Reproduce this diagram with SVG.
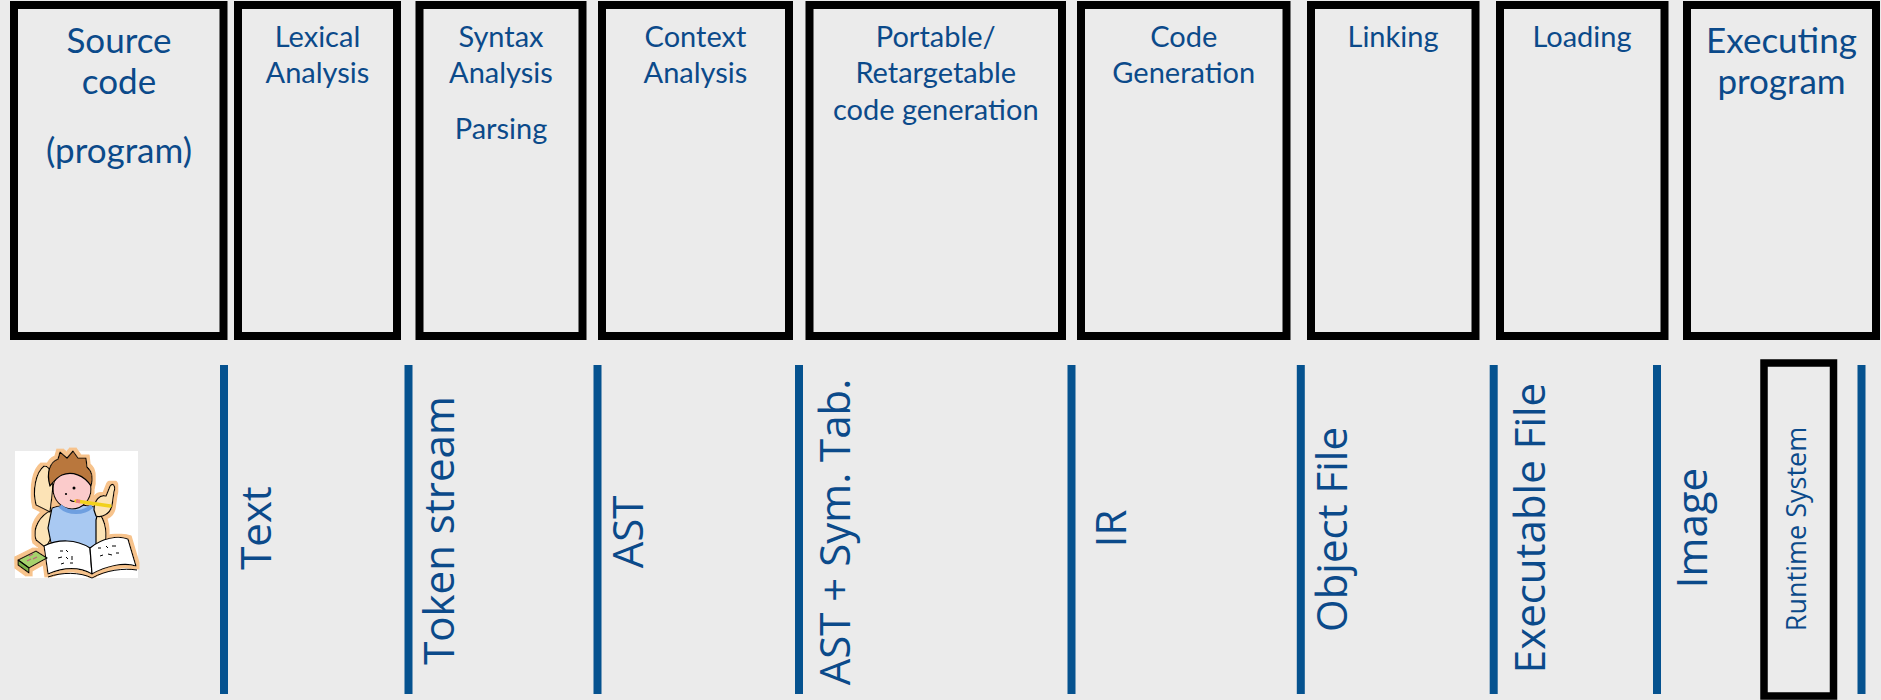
<svg xmlns="http://www.w3.org/2000/svg" width="1881" height="700" viewBox="0 0 1881 700">
  <style>
    .stage { fill: #EBEBEB; stroke: #000; stroke-width: 8; }
    .title { font-family: Lato, "Liberation Sans", sans-serif; fill: #0B4A8A; text-anchor: middle; }
    .t-sm { font-size: 29px; }
    .t-lg { font-size: 35px; }
    .divider { stroke: #05528F; stroke-width: 8; }
    .artifact { font-family: "Open Sans", "Noto Sans", sans-serif; font-size: 42px; fill: #0B4A8A; text-anchor: middle; }
    .ink { stroke: #000; stroke-width: 1.2; stroke-linejoin: round; stroke-linecap: round; }
  </style>
  <defs>
    <!-- peach halo around the clip-art outline -->
    <filter id="halo" x="-10%" y="-10%" width="120%" height="120%">
      <feMorphology in="SourceAlpha" operator="dilate" radius="2.5" result="grown"/>
      <feFlood flood-color="#F7C38C"/>
      <feComposite in2="grown" operator="in" result="ring"/>
      <feMerge>
        <feMergeNode in="ring"/>
        <feMergeNode in="SourceGraphic"/>
      </feMerge>
    </filter>
  </defs>

  <rect width="1881" height="700" fill="#EBEBEB"/>

  <!-- compiler stages -->
  <g id="source-code">
    <rect class="stage" x="14" y="5" width="209.5" height="331"/>
    <text class="title t-lg" x="119" y="53">Source</text>
    <text class="title t-lg" x="119" y="94">code</text>
    <text class="title t-lg" x="119" y="163">(program)</text>
  </g>
  <g id="lexical-analysis">
    <rect class="stage" x="238" y="5" width="159" height="331"/>
    <text class="title t-sm" x="317.5" y="47">Lexical</text>
    <text class="title t-sm" x="317.5" y="83">Analysis</text>
  </g>
  <g id="syntax-analysis">
    <rect class="stage" x="419.5" y="5" width="163" height="331"/>
    <text class="title t-sm" x="501" y="47">Syntax</text>
    <text class="title t-sm" x="501" y="83">Analysis</text>
    <text class="title t-sm" x="501" y="139">Parsing</text>
  </g>
  <g id="context-analysis">
    <rect class="stage" x="602" y="5" width="187" height="331"/>
    <text class="title t-sm" x="695.5" y="47">Context</text>
    <text class="title t-sm" x="695.5" y="83">Analysis</text>
  </g>
  <g id="retargetable-codegen">
    <rect class="stage" x="809.5" y="5" width="252.5" height="331"/>
    <text class="title t-sm" x="935.75" y="47">Portable/</text>
    <text class="title t-sm" x="935.75" y="83">Retargetable</text>
    <text class="title t-sm" x="935.75" y="120">code generation</text>
  </g>
  <g id="code-generation">
    <rect class="stage" x="1081" y="5" width="205.5" height="331"/>
    <text class="title t-sm" x="1183.75" y="47">Code</text>
    <text class="title t-sm" x="1183.75" y="83">Generation</text>
  </g>
  <g id="linking">
    <rect class="stage" x="1311" y="5" width="164.5" height="331"/>
    <text class="title t-sm" x="1393" y="47">Linking</text>
  </g>
  <g id="loading">
    <rect class="stage" x="1500" y="5" width="164.5" height="331"/>
    <text class="title t-sm" x="1582" y="47">Loading</text>
  </g>
  <g id="executing-program">
    <rect class="stage" x="1687" y="5" width="189" height="331"/>
    <text class="title t-lg" x="1781.5" y="53">Executing</text>
    <text class="title t-lg" x="1781.5" y="94">program</text>
  </g>

  <!-- programmer clip art -->
  <g id="programmer">
    <rect x="15" y="451" width="123" height="127" fill="#FFFFFF"/>
    <g filter="url(#halo)">
      <!-- left arm -->
      <path class="ink" d="M52 510 C40 515 32 528 36 540 L46 548 L56 528 Z" fill="#FCE3B6"/>
      <path class="ink" d="M36 505 C32 490 36 472 44 466 C52 466 54 480 52 496 L50 512 Z" fill="#FCE3B6"/>
      <!-- shirt -->
      <path class="ink" d="M52 508 C60 504 88 504 98 508 L104 530 L100 548 L52 548 L48 528 Z" fill="#A9C9F2"/>
      <!-- right arm and hand -->
      <path class="ink" d="M98 512 C106 520 108 536 104 546 L96 546 L96 520 Z" fill="#FCE3B6"/>
      <path class="ink" d="M94 510 C94 500 100 494 106 496 L110 486 C113 482 116 486 114 492 L112 506 C110 514 102 518 96 516 Z" fill="#FCE3B6"/>
      <!-- head -->
      <ellipse class="ink" cx="72" cy="489" rx="19" ry="20" fill="#FBCBCB"/>
      <!-- hair -->
      <path class="ink" d="M50 486 C46 472 50 462 58 459 L60 452 L67 458 L73 451 L78 458 L86 458 L87 467 C93 472 93 480 91 486 C84 475 72 471 62 475 C57 477 54 481 50 486 Z" fill="#B9773C"/>
      <!-- open book -->
      <path class="ink" d="M44 546 C58 539 76 539 90 548 L92 574 C78 566 62 568 48 574 Z" fill="#FFFFFF"/>
      <path class="ink" d="M90 548 C102 538 118 535 128 539 L136 566 C124 562 106 566 92 574 Z" fill="#FFFFFF"/>
      <!-- calculator -->
      <path class="ink" d="M18 560 L36 551 L47 558 L29 568 Z" fill="#A6D26C"/>
      <path class="ink" d="M18 560 L29 568 L29 573 L18 565 Z" fill="#7FB14A"/>
    </g>
    <path d="M60 506 C68 514 84 514 92 506" fill="none" stroke="#6E9FE0" stroke-width="4"/>
    <!-- face details -->
    <circle cx="74" cy="488" r="1.5" fill="#000"/>
    <circle cx="66" cy="494" r="1.1" fill="#000"/>
    <path d="M70 500 Q74 503 78 500" fill="none" stroke="#000" stroke-width="1.2"/>
    <!-- pencil -->
    <line x1="76" y1="501" x2="110" y2="506" stroke="#F1D11C" stroke-width="3.5" stroke-linecap="round"/>
    <line x1="76" y1="501" x2="80" y2="501.6" stroke="#F08080" stroke-width="3.5"/>
    <!-- page edges and scribbles -->
    <path d="M48 577 C62 572 80 572 92 578 C106 570 124 568 137 570" fill="none" stroke="#000" stroke-width="1"/>
    <g fill="none" stroke="#000" stroke-width="1">
      <path d="M60 551 l3 0 M66 550 l2 2 M58 558 l4 -1 M66 557 l2 2 M72 556 l0 4 M61 564 l3 -1 M70 563 l3 0"/>
      <path d="M98 548 l3 0 M106 546 l2 2 M112 546 l4 0 M100 556 l3 -1 M108 554 l4 1 M116 553 l3 0"/>
    </g>
    <path d="M29 556 l4 -2 M33 559 l4 -2 M27 561 l4 -2" stroke="#C06080" stroke-width="1.2"/>
  </g>

  <!-- boundaries between representations -->
  <g id="connectors">
    <line class="divider" x1="224" y1="365" x2="224" y2="694"/>
    <line class="divider" x1="408.5" y1="365" x2="408.5" y2="694"/>
    <line class="divider" x1="597.5" y1="365" x2="597.5" y2="694"/>
    <line class="divider" x1="799" y1="365" x2="799" y2="694"/>
    <line class="divider" x1="1071.5" y1="365" x2="1071.5" y2="694"/>
    <line class="divider" x1="1300.8" y1="365" x2="1300.8" y2="694"/>
    <line class="divider" x1="1493.7" y1="365" x2="1493.7" y2="694"/>
    <line class="divider" x1="1657" y1="365" x2="1657" y2="694"/>
    <line class="divider" x1="1861.5" y1="365" x2="1861.5" y2="694"/>
  </g>

  <!-- program representations -->
  <g id="artifact-text"><text class="artifact" transform="translate(271 528) rotate(-90)">Text</text></g>
  <g id="artifact-tokens"><text class="artifact" transform="translate(453.5 530.5) rotate(-90)">Token stream</text></g>
  <g id="artifact-ast"><text class="artifact" transform="translate(643 532) rotate(-90)">AST</text></g>
  <g id="artifact-ast-symtab"><text class="artifact" transform="translate(850 532) rotate(-90)">AST + Sym. Tab.</text></g>
  <g id="artifact-ir"><text class="artifact" transform="translate(1126 528.5) rotate(-90)">IR</text></g>
  <g id="artifact-object"><text class="artifact" transform="translate(1347 529.5) rotate(-90)">Object File</text></g>
  <g id="artifact-executable"><text class="artifact" transform="translate(1545 528) rotate(-90)">Executable File</text></g>
  <g id="artifact-image"><text class="artifact" transform="translate(1707 528) rotate(-90)">Image</text></g>

  <g id="runtime-system">
    <rect x="1764" y="363" width="69.5" height="333" fill="#EBEBEB" stroke="#000" stroke-width="7.5"/>
    <text class="artifact" style="font-size:27px" transform="translate(1806 529) rotate(-90)">Runtime System</text>
  </g>
</svg>
